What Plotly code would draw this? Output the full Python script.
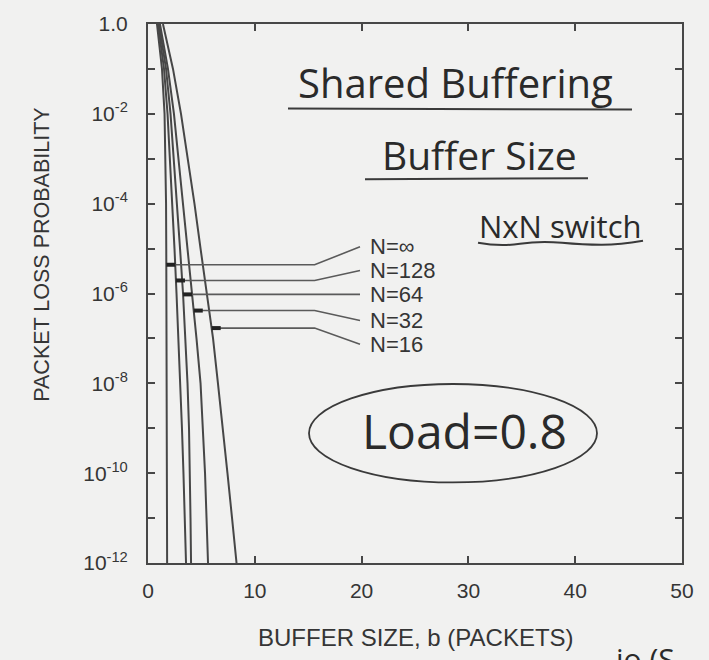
import numpy as np
import plotly.graph_objects as go

# ---------------- data ----------------
loss_prob = [1e0, 1e-1, 1e-2, 1e-3, 1e-4, 1e-5, 1e-6, 1e-7, 1e-8, 1e-9, 1e-10, 1e-11, 1e-12]
series_names = ["N=\u221e", "N=128", "N=64", "N=32", "N=16"]
b_n_inf = [0.84, 1.31, 1.55, 1.64, 1.69, 1.71, 1.73, 1.74, 1.75, 1.76, 1.77, 1.78, 1.79]
b_n128 = [0.94, 1.50, 1.83, 2.06, 2.25, 2.48, 2.67, 2.86, 3.04, 3.18, 3.32, 3.46, 3.56]
b_n64 = [1.03, 1.69, 2.11, 2.43, 2.72, 3.00, 3.28, 3.51, 3.70, 3.84, 3.93, 3.98, 4.03]
b_n32 = [1.12, 1.87, 2.43, 2.86, 3.23, 3.65, 4.12, 4.54, 4.92, 5.15, 5.34, 5.48, 5.62]
b_n16 = [1.40, 2.34, 3.09, 3.75, 4.35, 4.92, 5.52, 6.09, 6.55, 7.02, 7.44, 7.87, 8.29]
series_b = [b_n_inf, b_n128, b_n64, b_n32, b_n16]

# label call-outs (log10 of probability where leader meets curve / label)
marker_log_p = [-5.36, -5.71, -6.02, -6.38, -6.77]
label_log_p = [-4.96, -5.49, -6.02, -6.60, -7.13]
leader_elbow_b = 15.6
leader_end_b = 19.85
label_b = 20.6

x_tick_vals = [0, 10, 20, 30, 40, 50]
y_tick_exps = list(range(0, -13, -1))
y_tick_text = ["1.0" if e == 0 else ("10<sup>-%d</sup>" % (-e) if e % 2 == 0 else "") for e in y_tick_exps]

# ---------------- figure ----------------
INK = "#474747"
TXT = "#353535"
BG = "#f1f1f0"
AXFONT = "Liberation Sans"
HAND = "Open Sans"

fig = go.Figure()

log_p = np.log10(loss_prob)
for name, bvals in zip(series_names, series_b):
    fig.add_trace(go.Scatter(x=bvals, y=loss_prob, mode="lines", name=name,
                             line=dict(color=INK, width=2), showlegend=False,
                             hoverinfo="skip"))

for name, bvals, mlp, llp in zip(series_names, series_b, marker_log_p, label_log_p):
    bx = float(np.interp(mlp, log_p[::-1], np.array(bvals)[::-1]))
    # leader line
    fig.add_trace(go.Scatter(x=[bx, leader_elbow_b, leader_end_b],
                             y=[10 ** mlp, 10 ** mlp, 10 ** llp],
                             mode="lines", line=dict(color="#5a5a5a", width=1.6),
                             showlegend=False, hoverinfo="skip"))
    # small arrow-like dash on the curve
    fig.add_trace(go.Scatter(x=[bx, bx + 0.85], y=[10 ** mlp, 10 ** mlp],
                             mode="lines", line=dict(color="#222", width=4),
                             showlegend=False, hoverinfo="skip"))
    fig.add_annotation(x=label_b, y=llp, xref="x", yref="y", text=name,
                       showarrow=False, xanchor="left", yanchor="middle",
                       font=dict(family=AXFONT, size=22, color=TXT))

L, R, T, B = 148, 27, 21, 97
W, H = 709, 660
pw, ph = W - L - R, H - T - B


def px(x):
    return (x - L) / pw


def py(y):
    return (H - B - y) / ph


axis_common = dict(showline=True, linecolor=INK, linewidth=2, mirror="allticks",
                   ticks="inside", ticklen=7, tickwidth=1.5, tickcolor=INK,
                   showgrid=False, zeroline=False,
                   tickfont=dict(family=AXFONT, size=21, color=TXT))

fig.update_xaxes(range=[0, 50], tickvals=x_tick_vals, ticklabelstandoff=8,
                 **axis_common)
fig.update_yaxes(type="log", range=[-12, 0],
                 tickvals=[10.0 ** e for e in y_tick_exps], ticktext=y_tick_text,
                 ticklabelstandoff=14, **axis_common)

# axis titles
fig.add_annotation(x=px(416), y=py(638), xref="paper", yref="paper",
                   xanchor="center", yanchor="middle",
                   text="BUFFER SIZE, b (PACKETS)", showarrow=False,
                   font=dict(family=AXFONT, size=24, color=TXT))
fig.add_annotation(x=px(42), y=py(253), xref="paper", yref="paper",
                   xanchor="center", yanchor="middle",
                   text="PACKET LOSS PROBABILITY", showarrow=False, textangle=-90,
                   font=dict(family=AXFONT, size=21.5, color=TXT))

# handwritten notes
hand = dict(family=HAND, color="#2a2a2a")
notes = [("Shared Buffering", 455, 80, 40),
         ("Buffer Size", 479, 152, 39),
         ("NxN switch", 560, 224, 31),
         ("Load=0.8", 464, 430, 48)]
for txt, nx, ny, sz in notes:
    fig.add_annotation(x=px(nx), y=py(ny), xref="paper", yref="paper",
                       xanchor="center", yanchor="middle", text=txt,
                       showarrow=False, font=dict(size=sz, **hand))
fig.add_annotation(x=px(614), y=py(636), xref="paper", yref="paper",
                   text="io (S", showarrow=False, xanchor="left", yanchor="top",
                   font=dict(size=30, **hand))

pen = dict(color="#3a3a3a", width=2)
fig.add_shape(type="line", xref="paper", yref="paper",
              x0=px(288), x1=px(632), y0=py(106), y1=py(107), line=pen)
fig.add_shape(type="line", xref="paper", yref="paper",
              x0=px(365), x1=px(588), y0=py(177), y1=py(176), line=pen)
wave = "M %.4f,%.4f Q %.4f,%.4f %.4f,%.4f T %.4f,%.4f T %.4f,%.4f T %.4f,%.4f" % (
    px(478), py(241), px(500), py(245), px(520), py(242),
    px(562), py(241), px(602), py(243), px(643), py(239))
fig.add_shape(type="path", xref="paper", yref="paper", path=wave, line=pen)
fig.add_shape(type="circle", xref="paper", yref="paper",
              x0=px(309), x1=px(597), y0=py(482), y1=py(383),
              line=dict(color="#3a3a3a", width=1.8))

fig.update_layout(width=W, height=H, margin=dict(l=L, r=R, t=T, b=B),
                  paper_bgcolor=BG, plot_bgcolor=BG, showlegend=False)

fig.write_html("out.html")
